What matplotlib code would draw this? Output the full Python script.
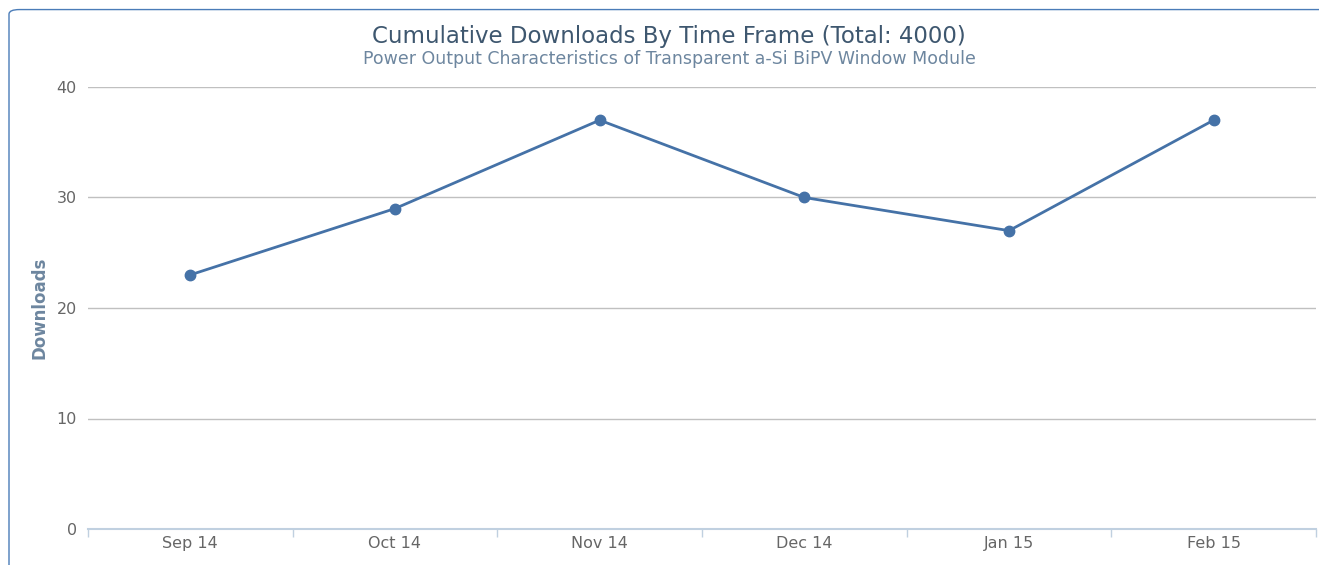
import numpy as np
import matplotlib.pyplot as plt
from matplotlib.patches import FancyBboxPatch

# datos
meses = ['Sep 14', 'Oct 14', 'Nov 14', 'Dec 14', 'Jan 15', 'Feb 15']
descargas = [23, 29, 37, 30, 27, 37]
y_ticks = [0, 10, 20, 30, 40]

fig = plt.figure(figsize=(13.19, 5.65), dpi=100)
fig.patch.set_facecolor('white')

# marco redondeado (cortado a la derecha y abajo)
marco = FancyBboxPatch((9/1319, -0.2), 1.2, (565-9)/565 + 0.2 - 0.001,
                       boxstyle='round,pad=0,rounding_size=0.008',
                       transform=fig.transFigure, facecolor='none',
                       edgecolor='#4a7cb8', linewidth=1.0, clip_on=False)
fig.patches.append(marco)

ax = fig.add_axes([88/1319, (565-529)/565, (1316-88)/1319, (529-87)/565])
x = np.arange(len(meses))
ax.plot(x, descargas, color='#4572a7', linewidth=2, marker='o', markersize=7.5,
        markeredgecolor='#4572a7', zorder=3)

ax.set_xlim(-0.5, len(meses) - 0.5)
ax.set_ylim(0, 40)
ax.set_yticks(y_ticks)
ax.set_xticks(x)
ax.set_xticklabels(meses)
ax.set_xticks(np.arange(-0.5, len(meses)), minor=True)

ax.grid(axis='y', color='#c0c0c0', linewidth=1)
ax.set_axisbelow(True)
for s in ['top', 'right', 'left']:
    ax.spines[s].set_visible(False)
ax.spines['bottom'].set_color('#c0d0e0')
ax.spines['bottom'].set_linewidth(1.5)

ax.tick_params(axis='x', which='major', length=0, pad=5, labelsize=11.5, labelcolor='#666666')
ax.tick_params(axis='x', which='minor', length=6, color='#c0d0e0', width=1)
ax.tick_params(axis='y', length=0, pad=8, labelsize=11.5, labelcolor='#666666')

ax.set_ylabel('Downloads', fontsize=12, fontweight='bold', color='#6d869f', labelpad=6)

fig.text(669/1319, 1 - 36/565, 'Cumulative Downloads By Time Frame (Total: 4000)',
         ha='center', va='center', fontsize=16.5, color='#3e576f')
fig.text(669/1319, 1 - 59/565, 'Power Output Characteristics of Transparent a-Si BiPV Window Module',
         ha='center', va='center', fontsize=12.5, color='#6d869f')

plt.savefig('out.png', dpi=100)
